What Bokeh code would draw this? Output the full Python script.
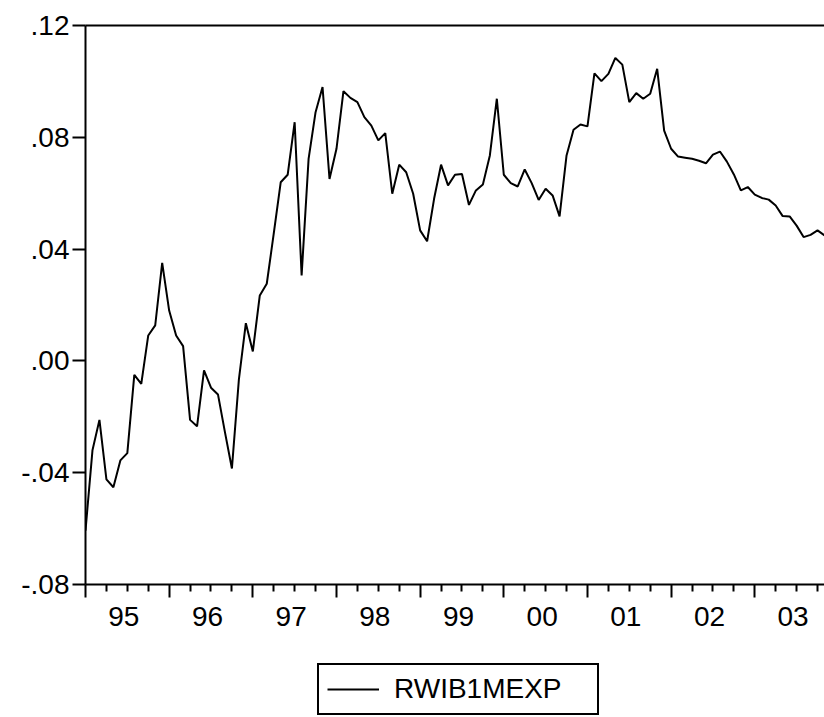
from bokeh.plotting import figure
from bokeh.layouts import column
from bokeh.models import (LinearAxis, FixedTicker, Range1d, Legend, LegendItem,
                          CustomLabelingPolicy)
from bokeh.embed import file_html
from bokeh.resources import INLINE

# Monthly observations, 1995M01 .. 2003M11
series_name = "RWIB1MEXP"
values = [
    -0.0607, -0.0320, -0.0211, -0.0424, -0.0452, -0.0356, -0.0330, -0.0050, -0.0082, 0.0091, 0.0127, 0.0351,
    0.0180, 0.0091, 0.0053, -0.0211, -0.0234, -0.0034, -0.0096, -0.0120, -0.0255, -0.0385, -0.0067, 0.0135,
    0.0034, 0.0234, 0.0276, 0.0455, 0.0639, 0.0666, 0.0854, 0.0306, 0.0723, 0.0890, 0.0980, 0.0651,
    0.0759, 0.0965, 0.0941, 0.0926, 0.0872, 0.0842, 0.0789, 0.0815, 0.0598, 0.0702, 0.0675, 0.0598,
    0.0467, 0.0428, 0.0580, 0.0702, 0.0628, 0.0666, 0.0669, 0.0558, 0.0610, 0.0631, 0.0735, 0.0938,
    0.0666, 0.0636, 0.0624, 0.0685, 0.0636, 0.0576, 0.0616, 0.0592, 0.0517, 0.0735, 0.0827, 0.0846,
    0.0839, 0.1029, 0.1001, 0.1027, 0.1084, 0.1060, 0.0926, 0.0958, 0.0938, 0.0956, 0.1045, 0.0824,
    0.0759, 0.0731, 0.0727, 0.0723, 0.0716, 0.0707, 0.0738, 0.0749, 0.0713, 0.0667, 0.0610, 0.0622,
    0.0595, 0.0583, 0.0577, 0.0556, 0.0518, 0.0517, 0.0484, 0.0443, 0.0451, 0.0467, 0.0449,
]
year_labels = ["95", "96", "97", "98", "99", "00", "01", "02", "03"]
y_ticks = [-0.08, -0.04, 0.0, 0.04, 0.08, 0.12]
y_tick_labels = ["-.08", "-.04", ".00", ".04", ".08", ".12"]

months = list(range(len(values)))
year_starts = [12 * i for i in range(len(year_labels))]
quarter_ticks = [m for m in range(0, 12 * len(year_labels)) if m % 3 == 0 and m % 12 != 0]
label_pos = [12 * i + 5.5 for i in range(len(year_labels))]

FONT = "Liberation Sans"
FS = "28px"
LW = 2

p = figure(
    x_range=Range1d(0, 106.0), y_range=Range1d(-0.08, 0.12),
    frame_width=739, frame_height=559,
    output_backend="svg", toolbar_location=None,
    x_axis_location=None, y_axis_location=None,
    min_border_left=85, min_border_right=0, min_border_top=25, min_border_bottom=60,
)
p.grid.visible = False
p.outline_line_color = None
p.background_fill_color = "white"
p.border_fill_color = "white"

p.line(months, values, line_color="black", line_width=LW)

yaxis = LinearAxis(
    ticker=FixedTicker(ticks=y_ticks),
    major_label_overrides=dict(zip(y_ticks, y_tick_labels)),
    major_tick_out=13, major_tick_in=0, minor_tick_out=0, minor_tick_in=0,
    axis_line_width=LW, major_tick_line_width=LW,
    major_label_text_font=FONT, major_label_text_font_size=FS,
    major_label_text_color="black", major_label_standoff=3,
)
p.add_layout(yaxis, "left")

hide_all = CustomLabelingPolicy(code="""
    const all = [...indices]
    for (const i of all) indices.unset(i)
    return indices
""")

top = LinearAxis(
    ticker=FixedTicker(ticks=[]), major_tick_out=0, major_tick_in=0,
    minor_tick_out=0, minor_tick_in=0, major_label_text_font_size="0px",
    major_label_standoff=0, axis_line_width=LW, major_label_policy=hide_all,
)
p.add_layout(top, "above")

xaxis_ticks = LinearAxis(
    ticker=FixedTicker(ticks=year_starts, minor_ticks=quarter_ticks),
    major_tick_out=13, major_tick_in=0, minor_tick_out=7, minor_tick_in=0,
    major_tick_line_width=LW, minor_tick_line_width=LW, axis_line_width=LW,
    major_label_text_font_size="0px", major_label_standoff=0,
    major_label_policy=hide_all,
)
p.add_layout(xaxis_ticks, "below")

xaxis_labels = LinearAxis(
    ticker=FixedTicker(ticks=label_pos),
    major_label_overrides=dict(zip(label_pos, year_labels)),
    major_tick_out=0, major_tick_in=0, minor_tick_out=0, minor_tick_in=0,
    axis_line_color=None,
    major_label_text_font=FONT, major_label_text_font_size=FS,
    major_label_text_color="black", major_label_standoff=9,
)
p.add_layout(xaxis_labels, "below")

# Legend strip below the chart
pl = figure(
    width=824, height=73, x_range=Range1d(1000, 1001), y_range=Range1d(0, 1),
    output_backend="svg", toolbar_location=None,
    x_axis_location=None, y_axis_location=None, min_border=0,
)
pl.grid.visible = False
pl.outline_line_color = None
pl.background_fill_color = "white"
pl.border_fill_color = "white"
rl = pl.line(months, values, line_color="black", line_width=LW)

legend = Legend(
    items=[LegendItem(label=series_name, renderers=[rl])],
    location=(232, 2), orientation="horizontal",
    border_line_color="black", border_line_width=2, border_line_alpha=1.0,
    background_fill_alpha=1.0,
    label_text_font=FONT, label_text_font_size=FS, label_text_color="black",
    glyph_width=52, glyph_height=26, label_height=26, label_width=195,
    label_standoff=15, padding=8, margin=0, spacing=0,
)
pl.add_layout(legend, "center")

layout = column(p, pl, spacing=0)
open("out.html", "w").write(file_html(layout, INLINE))
